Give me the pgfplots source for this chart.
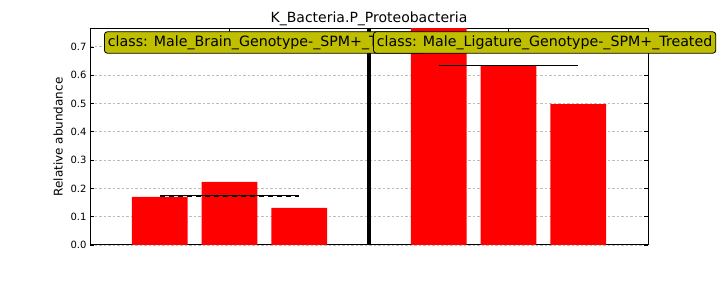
\documentclass[border=0pt]{standalone}
\usepackage{pgfplots}
\pgfplotsset{compat=1.18}
\usepackage{fontspec}
\setmainfont{DejaVu Sans}
\definecolor{boxy}{rgb}{0.75,0.75,0}
\definecolor{gridc}{rgb}{0.74,0.74,0.74}
\begin{document}
\begin{tikzpicture}[x=1pt,y=1pt]
\path[use as bounding box] (0,0) rectangle (720,288);
\begin{axis}[
  at={(90pt,43pt)}, anchor=south west,
  scale only axis, width=558pt, height=216pt,
  xmin=0, xmax=8, ymin=0, ymax=0.763,
  xtick={2,6}, xticklabels={}, 
  ytick={0,0.1,0.2,0.3,0.4,0.5,0.6,0.7},
  yticklabel style={/pgf/number format/.cd, fixed, fixed zerofill, precision=1},
  /pgf/number format/assume math mode=true,
  ticklabel style={font=\fontsize{10}{12}\selectfont},
  tick align=inside, major tick length=4pt,
  tick style={black, line width=0.6pt},
  xtick pos=both, ytick pos=both,
  ymajorgrids, grid style={gridc, dash pattern=on 2.5pt off 2pt, line width=0.7pt},
  axis line style={line width=1pt},
  ylabel={Relative abundance},
  ylabel style={at={(axis description cs:-0.0573,0.5)}, anchor=center, rotate=0, font=\fontsize{12}{14}\selectfont},
  title={K\_Bacteria.P\_Proteobacteria},
  every axis title shift=0pt,
  title style={at={(axis description cs:0.5,1.046)}, anchor=center, font=\fontsize{14}{16}\selectfont},
  clip mode=individual,
]
\addplot[ybar, bar width=0.8, bar shift=0pt, fill=red, draw=none] coordinates {
  (1,0.170) (2,0.2226) (3,0.131) (5,0.769) (6,0.633) (7,0.498)
};
\addplot[black, line width=1pt] coordinates {(1,0.1755) (3,0.1755)};
\addplot[black, line width=1pt, dash pattern=on 5pt off 4pt] coordinates {(1,0.170) (3,0.170)};
\addplot[black, line width=1pt, dash pattern=on 5pt off 4pt] coordinates {(5,0.633) (7,0.633)};
\addplot[black, line width=1pt] coordinates {(5,0.633) (7,0.633)};
\addplot[black, line width=4.5pt] coordinates {(4,0) (4,0.763)};
\end{axis}
\node[anchor=west, fill=boxy, draw=black, line width=0.8pt, rounded corners=3pt, inner xsep=3.5pt, minimum height=21.5pt, font=\fontsize{14.2}{16}\selectfont] at (104,245.5) {class: Male\_Brain\_Genotype-\_SPM+\_Treated};
\node[anchor=west, fill=boxy, draw=black, line width=0.8pt, rounded corners=3pt, inner xsep=3.5pt, minimum height=21.5pt, font=\fontsize{14.2}{16}\selectfont] at (373,245.5) {class: Male\_Ligature\_Genotype-\_SPM+\_Treated};
\end{tikzpicture}
\end{document}
